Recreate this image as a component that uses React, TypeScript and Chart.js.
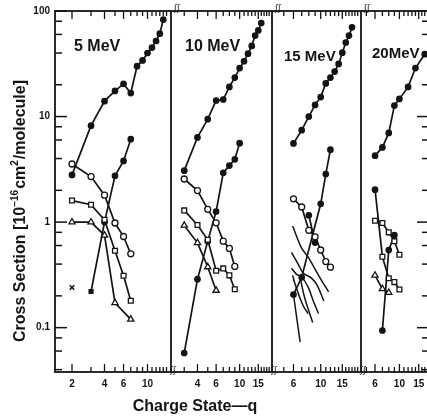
import { useEffect, useRef } from 'react';
import { Chart, registerables } from 'chart.js';

Chart.register(...registerables);

const FONT = "'Liberation Sans', Arial, Helvetica, sans-serif";
const INK = '#141414';

// ---------- axes ----------
const panelNames = ['5 MeV', '10 MeV', '15 MeV', '20MeV'];
const panelMin = [1.392, 2.25, 4.01, 4.47];
const panelMax = [16.5, 20.2, 21.3, 18.6];
const panelTickLabels = [
  [2, 4, 6, 10],
  [4, 6, 10, 15],
  [6, 10, 15],
  [6, 10, 15],
];
const yMin = 0.038;
const yMax = 100;
const yTickLabels = [0.1, 1, 10, 100];
const yMinorTicks = [0.04, 0.06, 0.08, 0.2, 0.4, 0.6, 0.8, 2, 4, 6, 8, 20, 40, 60, 80];
const yTitleMain = ['Cross Section [10', 'cm', '/molecule]'];
const yTitleSup = ['\u221216', '2'];
const xTitle = 'Charge State\u2014q';

// ---------- data: 5 MeV ----------
const q5Filled = [2, 3, 4, 5, 6, 7, 8, 9, 10, 11, 12, 13, 14];
const s5Filled = [2.8, 8.2, 14, 17.5, 20.4, 16.7, 30, 34, 40, 45, 52, 61, 83];
const q5Circle = [2, 3, 4, 5, 6, 7];
const s5Circle = [3.55, 2.7, 1.8, 0.98, 0.73, 0.5];
const q5Square = [2, 3, 4, 5, 6, 7];
const s5Square = [1.6, 1.46, 1.05, 0.535, 0.31, 0.18];
const q5Triangle = [2, 3, 4, 5, 7];
const s5Triangle = [1.0, 1.0, 0.75, 0.172, 0.12];
const q5Rising = [3, 4, 5, 6, 7];
const s5Rising = [0.22, 1.0, 2.75, 3.8, 6.1];
const q5Cross = [2];
const s5Cross = [0.24];

// ---------- data: 10 MeV ----------
const q10Filled = [3, 4, 5, 6, 7, 8, 9, 10, 11, 12, 13, 14, 15, 16];
const s10Filled = [3.07, 6.34, 9.44, 14.2, 14.5, 19.1, 23.4, 28.8, 33.4, 39.4, 46.7, 58.5, 65.5, 77];
const q10Circle = [3, 4, 5, 6, 7, 8, 9];
const s10Circle = [2.56, 1.99, 1.32, 0.985, 0.66, 0.563, 0.38];
const q10Rising = [3, 4, 5, 6, 7, 8, 9, 10];
const s10Rising = [0.0575, 0.288, 0.66, 1.26, 2.93, 3.43, 3.93, 5.6];
const q10Square = [3, 4, 5, 6, 7, 8, 9];
const s10Square = [1.29, 0.94, 0.68, 0.346, 0.364, 0.313, 0.231];
const q10Triangle = [3, 4, 5, 6];
const s10Triangle = [0.93, 0.636, 0.376, 0.225];

// ---------- data: 15 MeV ----------
const q15Filled = [6, 7, 8, 9, 10, 11, 12, 13, 14, 15, 16, 17, 18];
const s15Filled = [5.56, 7.43, 10, 12.9, 15.3, 20.6, 23.4, 26.7, 31.5, 40.3, 50.3, 58.5, 70];
const q15Circle = [6, 7, 8, 9, 10, 11, 12];
const s15Circle = [1.66, 1.39, 0.836, 0.724, 0.544, 0.423, 0.374];
const q15Rising = [6, 7, 10, 11, 12];
const s15Rising = [0.206, 0.3, 1.49, 2.85, 4.85];
const q15FilledB = [8, 9];
const s15FilledB = [1.16, 0.64];
const q15CurveA = [5.91, 6.96, 7.95, 8.9, 9.9, 11.6];
const s15CurveA = [0.918, 0.572, 0.461, 0.366, 0.295, 0.218];
const q15CurveB = [5.78, 6.6, 7.2, 8.4, 9.3, 10.6];
const s15CurveB = [0.517, 0.394, 0.329, 0.295, 0.256, 0.179];
const q15CurveC = [5.78, 6.4, 6.96, 7.95, 8.7, 9.6];
const s15CurveC = [0.366, 0.318, 0.306, 0.238, 0.179, 0.136];
const q15CurveD = [5.91, 6.2, 7.2, 7.9];
const s15CurveD = [0.313, 0.256, 0.161, 0.136];
const q15CurveE = [6, 6.8];
const s15CurveE = [0.206, 0.073];
const q15CurveF = [6.8, 7.4, 8.6];
const s15CurveF = [0.3, 0.192, 0.112];

// ---------- data: 20 MeV ----------
const q20Filled = [6, 7, 8, 9, 10, 12, 14, 17];
const s20Filled = [4.26, 5.1, 7.0, 12.7, 14.7, 19.1, 28.8, 39];
const q20Rising = [7, 8, 9];
const s20Rising = [0.094, 0.544, 0.751];
const q20SquareA = [6, 7, 8, 9, 10];
const s20SquareA = [1.03, 0.98, 0.8, 0.66, 0.49];
const q20SquareB = [6, 7, 8, 9, 10];
const s20SquareB = [2.03, 0.47, 0.294, 0.27, 0.23];
const q20Triangle = [6, 7, 8];
const s20Triangle = [0.313, 0.233, 0.215];

// ---------- layout (pixels) ----------
const CANVAS_W = 440;
const CANVAS_H = 419;
const panelWeights = [116, 101, 89, 68];
const panelLabelDx = [19, 14, 12, 11];
const panelLabelY = [46.5, 47, 56.5, 54];
const panelLabelSize = [16, 16, 15, 15];

type Kind = 'filled' | 'circle' | 'square' | 'triangle' | 'cross' | 'curve';

function pts(xs: number[], ys: number[]) {
  return xs.map((x, i) => ({ x, y: ys[i] }));
}

function series(label: string, axis: string, xs: number[], ys: number[], kind: Kind, extra: any = {}) {
  const base: any = {
    label,
    data: pts(xs, ys),
    xAxisID: axis,
    yAxisID: 'y',
    borderColor: INK,
    borderWidth: 1.7,
    fill: false,
    tension: 0,
    pointBorderColor: INK,
    pointBorderWidth: 1.3,
    pointHoverRadius: 0,
  };
  if (kind === 'filled') Object.assign(base, { pointStyle: 'circle', pointRadius: 2.7, pointBackgroundColor: INK });
  if (kind === 'circle') Object.assign(base, { pointStyle: 'circle', pointRadius: 3, pointBackgroundColor: '#fff' });
  if (kind === 'square') Object.assign(base, { pointStyle: 'rect', pointRadius: 3.4, pointBackgroundColor: '#fff' });
  if (kind === 'triangle') Object.assign(base, { pointStyle: 'triangle', pointRadius: 3.6, pointBackgroundColor: '#fff' });
  if (kind === 'cross') Object.assign(base, { pointStyle: 'crossRot', pointRadius: 3.2, showLine: false, pointBorderWidth: 1.6 });
  if (kind === 'curve') Object.assign(base, { pointRadius: 0, tension: 0.35, borderWidth: 1.5 });
  return Object.assign(base, extra);
}

const axisIds = ['x1', 'x2', 'x3', 'x4'];

export default function App() {
  const ref = useRef<HTMLCanvasElement>(null);

  useEffect(() => {
    const canvas = ref.current;
    if (!canvas) return;

    const datasets = [
      series('5 MeV filled', 'x1', q5Filled, s5Filled, 'filled'),
      series('5 MeV circle', 'x1', q5Circle, s5Circle, 'circle'),
      series('5 MeV square', 'x1', q5Square, s5Square, 'square'),
      series('5 MeV triangle', 'x1', q5Triangle, s5Triangle, 'triangle'),
      series('5 MeV rising', 'x1', q5Rising, s5Rising, 'filled', {
        pointStyle: ['rect', 'circle', 'circle', 'circle', 'circle'],
      }),
      series('5 MeV cross', 'x1', q5Cross, s5Cross, 'cross'),

      series('10 MeV filled', 'x2', q10Filled, s10Filled, 'filled'),
      series('10 MeV circle', 'x2', q10Circle, s10Circle, 'circle'),
      series('10 MeV square', 'x2', q10Square, s10Square, 'square'),
      series('10 MeV triangle', 'x2', q10Triangle, s10Triangle, 'triangle'),
      series('10 MeV rising', 'x2', q10Rising, s10Rising, 'filled'),

      series('15 MeV curve A', 'x3', q15CurveA, s15CurveA, 'curve'),
      series('15 MeV curve B', 'x3', q15CurveB, s15CurveB, 'curve'),
      series('15 MeV curve C', 'x3', q15CurveC, s15CurveC, 'curve'),
      series('15 MeV curve D', 'x3', q15CurveD, s15CurveD, 'curve'),
      series('15 MeV curve E', 'x3', q15CurveE, s15CurveE, 'curve'),
      series('15 MeV curve F', 'x3', q15CurveF, s15CurveF, 'curve'),
      series('15 MeV filled', 'x3', q15Filled, s15Filled, 'filled'),
      series('15 MeV circle', 'x3', q15Circle, s15Circle, 'circle'),
      series('15 MeV rising', 'x3', q15Rising, s15Rising, 'filled'),
      series('15 MeV filled B', 'x3', q15FilledB, s15FilledB, 'filled'),

      series('20 MeV filled', 'x4', q20Filled, s20Filled, 'filled'),
      series('20 MeV square A', 'x4', q20SquareA, s20SquareA, 'square'),
      series('20 MeV square B', 'x4', q20SquareB, s20SquareB, 'square', {
        pointStyle: ['circle', 'rect', 'rect', 'rect', 'rect'],
        pointRadius: [2.7, 3.4, 3.4, 3.4, 3.4],
        pointBackgroundColor: [INK, '#fff', '#fff', '#fff', '#fff'],
      }),
      series('20 MeV triangle', 'x4', q20Triangle, s20Triangle, 'triangle'),
      series('20 MeV rising', 'x4', q20Rising, s20Rising, 'filled'),
    ];

    const scales: any = {
      y: {
        type: 'logarithmic',
        position: 'left',
        min: yMin,
        max: yMax,
        grid: { display: false, drawTicks: false },
        border: { display: false },
        ticks: {
          autoSkip: false,
          padding: 5,
          color: INK,
          font: { family: FONT, size: 10, weight: 'bold' },
          callback: (v: any) => String(v),
        },
        afterBuildTicks: (s: any) => {
          s.ticks = yTickLabels.map((v) => ({ value: v }));
        },
        afterFit: (s: any) => {
          s.width = 55;
        },
      },
    };
    axisIds.forEach((id, i) => {
      scales[id] = {
        type: 'logarithmic',
        position: 'bottom',
        stack: 'panels',
        stackWeight: panelWeights[i],
        min: panelMin[i],
        max: panelMax[i],
        grid: { display: false, drawTicks: false },
        border: { display: false },
        ticks: {
          autoSkip: false,
          maxRotation: 0,
          padding: 6,
          color: INK,
          font: { family: FONT, size: 10, weight: 'bold' },
          callback: (v: any) => String(v),
        },
        afterBuildTicks: (s: any) => {
          s.ticks = panelTickLabels[i].map((v) => ({ value: v }));
        },
        afterFit: (s: any) => {
          s.height = 47;
        },
      };
    });

    const decor = {
      id: 'decor',
      afterDraw(chart: any) {
        const { ctx, chartArea: ca } = chart;
        const ys = chart.scales.y;
        const line = (x1: number, y1: number, x2: number, y2: number) => {
          ctx.beginPath();
          ctx.moveTo(x1, y1);
          ctx.lineTo(x2, y2);
          ctx.stroke();
        };
        ctx.save();
        ctx.strokeStyle = INK;
        ctx.fillStyle = INK;
        ctx.lineWidth = 1.8;
        ctx.strokeRect(ca.left, ca.top, ca.right - ca.left, ca.bottom - ca.top);

        ctx.lineWidth = 1.3;
        axisIds.forEach((id, i) => {
          const s = chart.scales[id];
          if (i > 0) {
            ctx.lineWidth = 1.8;
            line(s.left, ca.top, s.left, ca.bottom);
            ctx.lineWidth = 1.3;
          }
          for (let v = Math.ceil(panelMin[i]); v <= panelMax[i]; v++) {
            const px = s.getPixelForValue(v);
            if (px < s.left + 2 || px > s.right - 2) continue;
            const len = panelTickLabels[i].includes(v) ? 8 : 5;
            line(px, ca.bottom, px, ca.bottom - len);
            line(px, ca.top, px, ca.top + len);
          }
          // axis-break marks
          if (i > 0) {
            ctx.font = `9px 'DejaVu Sans', sans-serif`;
            ctx.textAlign = 'center';
            ctx.textBaseline = 'middle';
            ctx.fillText('\u0283\u0283', s.left + 2, ca.bottom - 1);
            ctx.fillText('\u0283\u0283', s.left + 6, ca.top - 2);
          }
          // panel label
          ctx.font = `bold ${panelLabelSize[i]}px ${FONT}`;
          ctx.textAlign = 'left';
          ctx.textBaseline = 'middle';
          ctx.fillText(panelNames[i], s.left + panelLabelDx[i], panelLabelY[i]);
        });

        // y ticks, left and right, pointing inward
        const drawY = (v: number, len: number) => {
          const py = ys.getPixelForValue(v);
          line(ca.left, py, ca.left + len, py);
          line(ca.right, py, ca.right - len, py);
        };
        ctx.lineWidth = 1.5;
        yTickLabels.forEach((v) => drawY(v, 12));
        yMinorTicks.forEach((v) => drawY(v, 7));

        // y title (rotated)
        ctx.save();
        ctx.translate(21, 211);
        ctx.rotate(-Math.PI / 2);
        const mainFont = `bold 16px ${FONT}`;
        const supFont = `bold 10px ${FONT}`;
        const parts: { t: string; sup: boolean }[] = [
          { t: yTitleMain[0], sup: false },
          { t: yTitleSup[0], sup: true },
          { t: yTitleMain[1], sup: false },
          { t: yTitleSup[1], sup: true },
          { t: yTitleMain[2], sup: false },
        ];
        let total = 0;
        const widths = parts.map((p) => {
          ctx.font = p.sup ? supFont : mainFont;
          const w = ctx.measureText(p.t).width + (p.sup ? 1 : 0);
          total += w;
          return w;
        });
        let xx = -total / 2;
        ctx.textAlign = 'left';
        ctx.textBaseline = 'middle';
        parts.forEach((p, k) => {
          ctx.font = p.sup ? supFont : mainFont;
          ctx.fillText(p.t, xx, p.sup ? -6 : 0);
          xx += widths[k];
        });
        ctx.restore();

        // x title
        ctx.font = `bold 16px ${FONT}`;
        ctx.textAlign = 'center';
        ctx.textBaseline = 'middle';
        ctx.fillText(xTitle, 195, 407);
        ctx.restore();
      },
    };

    const chart = new Chart(canvas, {
      type: 'line',
      data: { datasets },
      options: {
        animation: false,
        responsive: false,
        maintainAspectRatio: false,
        layout: { padding: { left: 0, right: CANVAS_W - 429, top: 11, bottom: 0 } },
        plugins: { legend: { display: false }, tooltip: { enabled: false } },
        events: [],
        scales,
      },
      plugins: [decor],
    } as any);

    return () => chart.destroy();
  }, []);

  return (
    <div
      style={{
        position: 'fixed',
        left: 0,
        top: 0,
        width: 427,
        height: 419,
        overflow: 'hidden',
        background: '#fff',
      }}
    >
      <canvas ref={ref} width={CANVAS_W} height={CANVAS_H} style={{ display: 'block' }} />
    </div>
  );
}
